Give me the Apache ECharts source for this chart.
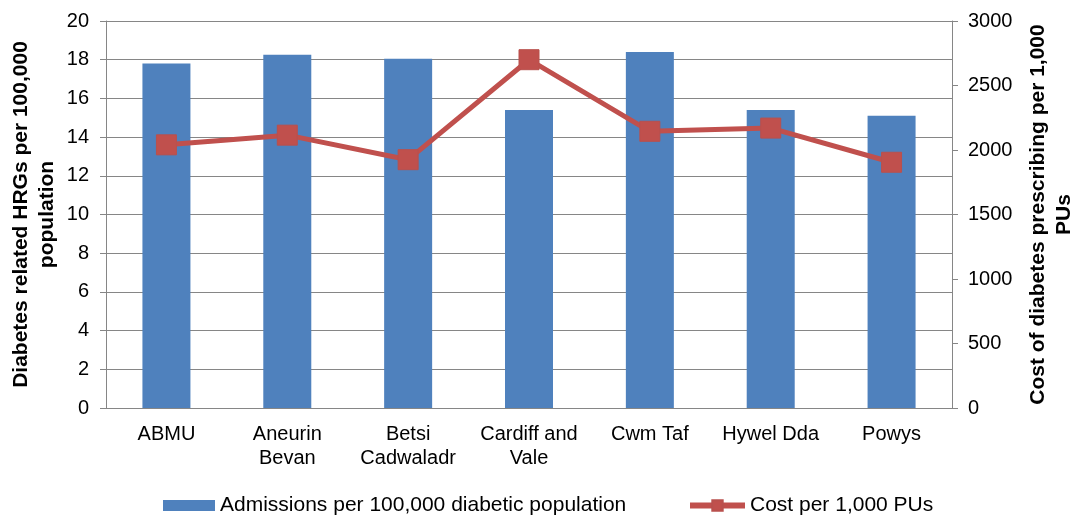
<!DOCTYPE html>
<html>
<head>
  <meta charset="utf-8">
  <script src="https://cdn.jsdelivr.net/npm/echarts@6/dist/echarts.min.js"></script>
</head>
<body style="margin: 0; background: #fff">
  <div id="main" style="width: 1073px; height: 517px;"></div>
  <script>
    // 卫生局
    const boards = ['ABMU', 'Aneurin\nBevan', 'Betsi\nCadwaladr', 'Cardiff and\nVale', 'Cwm Taf', 'Hywel Dda', 'Powys'];
    const admissions = [17.8, 18.25, 18.05, 15.4, 18.4, 15.4, 15.1];
    const costPer1000 = [2040, 2115, 1925, 2700, 2145, 2170, 1905];

    const font = 'Liberation Sans, Arial, sans-serif';
    const gray = '#868686';

    var chart = echarts.init(document.getElementById('main'), null, { renderer: 'canvas' });

    var option = {
      animation: false,
      textStyle: { fontFamily: font, color: '#000' },
      grid: { left: 106, right: 121, top: 21, bottom: 109, outerBoundsMode: 'none', containLabel: false },
      legend: [
        {
          left: 158, top: 490,
          icon: 'rect',
          itemWidth: 52, itemHeight: 11,
          textStyle: { fontSize: 21, color: '#000', fontFamily: font },
          data: ['Admissions per 100,000 diabetic population']
        },
        {
          left: 682, top: 490,
          itemWidth: 55, itemHeight: 13,
          lineStyle: { width: 6 },
          textStyle: { fontSize: 21, color: '#000', fontFamily: font },
          data: ['Cost per 1,000 PUs']
        }
      ],
      xAxis: {
        type: 'category',
        data: boards,
        axisLine: { lineStyle: { color: gray } },
        axisTick: { length: 5, lineStyle: { color: gray } },
        axisLabel: { fontSize: 20, lineHeight: 24, color: '#000', margin: 14, interval: 0 }
      },
      yAxis: [
        {
          type: 'value', min: 0, max: 20, interval: 2,
          name: 'Diabetes related HRGs per 100,000\npopulation',
          nameLocation: 'middle', nameGap: 46, nameRotate: 90, nameMoveOverlap: false,
          nameTextStyle: { fontSize: 21, fontWeight: 'bold', lineHeight: 26, color: '#000' },
          axisLine: { show: true, lineStyle: { color: gray } },
          axisTick: { show: true, length: 6, lineStyle: { color: gray } },
          axisLabel: { fontSize: 20, color: '#000', margin: 17 },
          splitLine: { lineStyle: { color: gray } }
        },
        {
          type: 'value', min: 0, max: 3000, interval: 500,
          name: 'Cost of diabetes prescribing per 1,000\nPUs',
          nameLocation: 'middle', nameGap: 73, nameRotate: 90, nameMoveOverlap: false,
          nameTextStyle: { fontSize: 21, fontWeight: 'bold', lineHeight: 26, color: '#000' },
          axisLine: { show: true, lineStyle: { color: gray } },
          axisTick: { show: true, length: 6, lineStyle: { color: gray } },
          axisLabel: { fontSize: 20, color: '#000', margin: 16, formatter: v => String(v) },
          splitLine: { show: false }
        }
      ],
      series: [
        {
          name: 'Admissions per 100,000 diabetic population',
          type: 'bar',
          data: admissions,
          barWidth: 48,
          itemStyle: { color: '#4F81BD' }
        },
        {
          name: 'Cost per 1,000 PUs',
          type: 'line',
          yAxisIndex: 1,
          data: costPer1000,
          symbol: 'rect',
          symbolSize: 20,
          lineStyle: { color: '#C0504D', width: 5 },
          itemStyle: { color: '#C0504D', borderColor: '#B9504D', borderWidth: 1 }
        }
      ]
    };

    chart.setOption(option);
  </script>
</body>
</html>
